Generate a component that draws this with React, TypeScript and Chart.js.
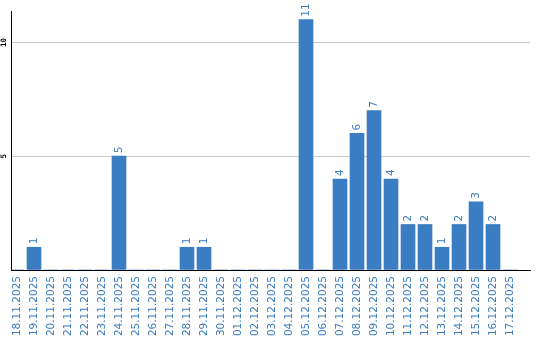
import React, { useEffect, useRef } from "react";
import { Chart, registerables } from "chart.js";

Chart.register(...registerables);

const dates: string[] = [
  "18.11.2025", "19.11.2025", "20.11.2025", "21.11.2025", "22.11.2025",
  "23.11.2025", "24.11.2025", "25.11.2025", "26.11.2025", "27.11.2025",
  "28.11.2025", "29.11.2025", "30.11.2025", "01.12.2025", "02.12.2025",
  "03.12.2025", "04.12.2025", "05.12.2025", "06.12.2025", "07.12.2025",
  "08.12.2025", "09.12.2025", "10.12.2025", "11.12.2025", "12.12.2025",
  "13.12.2025", "14.12.2025", "15.12.2025", "16.12.2025", "17.12.2025",
];

const counts: number[] = [
  0, 1, 0, 0, 0, 0, 5, 0, 0, 0, 1, 1, 0, 0, 0, 0, 0, 11, 0, 4, 6, 7, 4, 2, 2, 1, 2, 3, 2, 0,
];

const yTicks: number[] = [0, 5, 10];

const BLUE = "#3b7dc3";
const LABEL_BLUE = "#3b7bbf";

const valueLabels = {
  id: "valueLabels",
  afterDatasetsDraw(chart: any) {
    const ctx = chart.ctx;
    const meta = chart.getDatasetMeta(0);
    ctx.save();
    ctx.fillStyle = LABEL_BLUE;
    ctx.font = "10.5px 'DejaVu Sans'";
    ctx.textAlign = "left";
    ctx.textBaseline = "middle";
    meta.data.forEach((bar: any, i: number) => {
      const v = counts[i];
      if (!v) return;
      ctx.save();
      ctx.translate(bar.x, bar.y - 3);
      ctx.rotate(-Math.PI / 2);
      ctx.fillText(String(v), 0, 0);
      ctx.restore();
    });
    ctx.restore();
  },
};

const yLabels = {
  id: "yLabels",
  afterDraw(chart: any) {
    const ctx = chart.ctx;
    const y = chart.scales.y;
    ctx.save();
    ctx.fillStyle = "#000";
    ctx.font = "bold 7.5px 'DejaVu Sans Mono'";
    ctx.textAlign = "center";
    ctx.textBaseline = "middle";
    yTicks.forEach((t) => {
      if (t === 0) return;
      ctx.save();
      ctx.translate(4.5, y.getPixelForValue(t));
      ctx.rotate(-Math.PI / 2);
      ctx.fillText(String(t), 0, 0);
      ctx.restore();
    });
    ctx.restore();
  },
};

export default function App() {
  const ref = useRef<HTMLCanvasElement | null>(null);

  useEffect(() => {
    if (!ref.current) return;
    const chart = new Chart(ref.current, {
      type: "bar",
      data: {
        datasets: [
          {
            data: counts.map((v, i) => ({ x: i, y: v })),
            backgroundColor: BLUE,
            borderWidth: 0,
            barThickness: 14,
          },
        ],
      },
      options: {
        animation: false,
        responsive: false,
        devicePixelRatio: 1,
        layout: { padding: { top: 11, right: 10, left: 0, bottom: 0 } },
        plugins: { legend: { display: false }, tooltip: { enabled: false } },
        scales: {
          x: {
            type: "linear",
            offset: false,
            min: -0.353,
            max: 30.176,
            grid: { display: false, drawTicks: false, offset: false },
            border: { display: true, color: "#000", width: 1 },
            afterBuildTicks: (scale: any) => {
              scale.ticks = dates.map((_, i) => ({ value: i }));
            },
            afterFit: (scale: any) => {
              scale.height = 70;
            },
            ticks: {
              autoSkip: false,
              minRotation: 90,
              maxRotation: 90,
              padding: 6,
              color: LABEL_BLUE,
              font: { family: "'DejaVu Sans'", size: 10.5 },
              callback: (value: any) => dates[Number(value)] ?? "",
            },
          },
          y: {
            type: "linear",
            min: 0,
            max: 11.38,
            afterBuildTicks: (scale: any) => {
              scale.ticks = yTicks.map((v) => ({ value: v }));
            },
            afterFit: (scale: any) => {
              scale.width = 11;
            },
            ticks: { display: false },
            grid: {
              drawTicks: false,
              color: (c: any) => (c.tick && c.tick.value === 0 ? "rgba(0,0,0,0)" : "#c8c8c8"),
              lineWidth: 1,
            },
            border: { display: true, color: "#000", width: 1 },
          },
        },
      },
      plugins: [valueLabels, yLabels],
    });
    return () => chart.destroy();
  }, []);

  return (
    <div style={{ position: "absolute", left: 0, top: 0, width: 540, height: 340 }}>
      <canvas ref={ref} width={540} height={340} style={{ width: 540, height: 340 }} />
    </div>
  );
}
